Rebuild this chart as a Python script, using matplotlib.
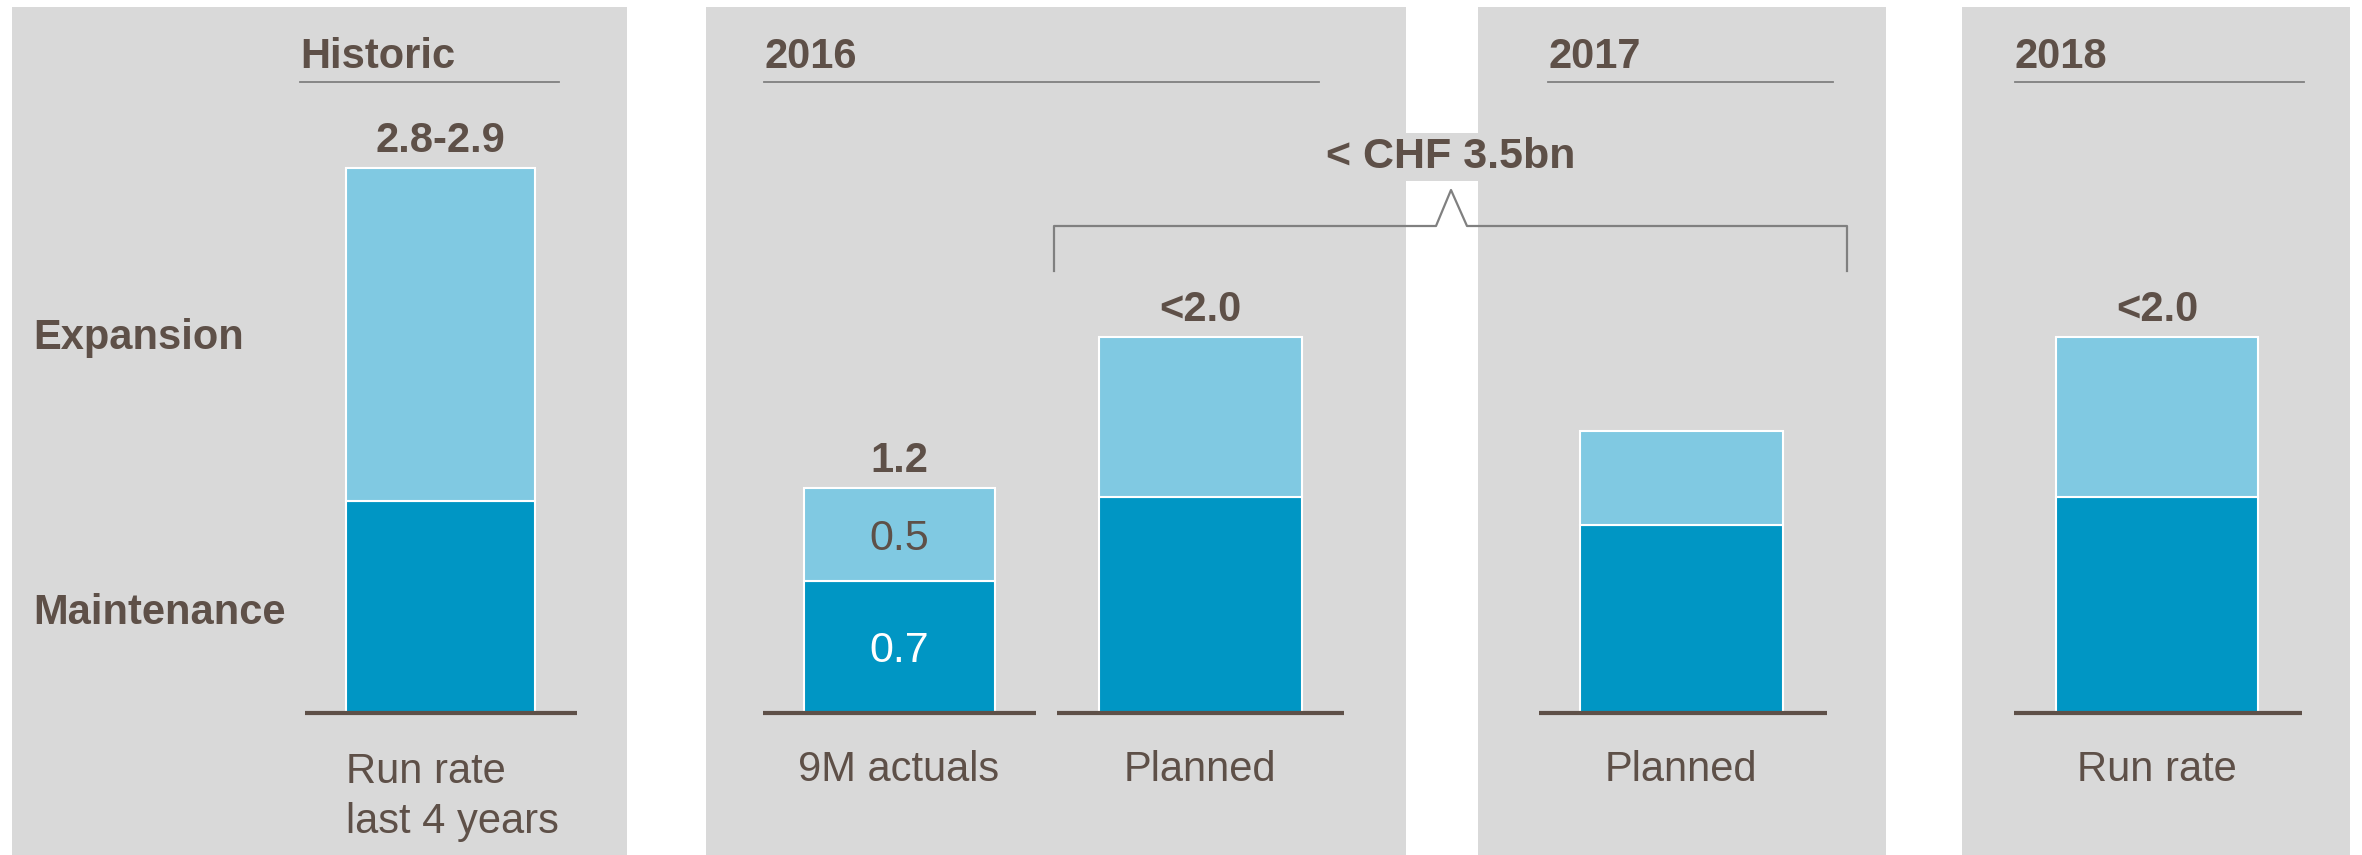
import matplotlib.pyplot as plt
from matplotlib.patches import Rectangle

plt.rcParams['font.family'] = ['Liberation Sans', 'DejaVu Sans']

# data (CHF bn)
categories = ['Run rate\nlast 4 years', '9M actuals', 'Planned', 'Planned', 'Run rate']
maintenance = [1.13, 0.7, 1.15, 1.0, 1.15]
expansion = [1.77, 0.5, 0.85, 0.5, 0.85]
top_labels = ['2.8-2.9', '1.2', '<2.0', '', '<2.0']
headers = ['Historic', '2016', '2017', '2018']
total_label = '< CHF 3.5bn'

# layout (pixel columns of the 2362 px wide picture)
W, H = 2362, 855
bar_x = [440, 899, 1200, 1681, 2157]
bar_w = [189, 191, 203, 203, 202]
base_lines = [(305, 577), (763, 1036), (1057, 1344), (1539, 1827), (2014, 2302)]
panels = [(12, 627), (706, 1406), (1478, 1886), (1962, 2350)]
header_lines = [(300, 559), (764, 1319), (1548, 1833), (2015, 2304)]

DARK = '#0096c4'
LIGHT = '#80c9e2'
PANEL = '#d9d9d9'
TEXT = '#5e5048'
LINE = '#808080'

px_per_unit = 187.9
base_px = 713  # from top

fig = plt.figure(figsize=(W / 100, H / 100), dpi=100)
ax = fig.add_axes([0, 0, 1, 1])
ax.set_xlim(0, W)
ax.set_ylim(-(H - base_px) / px_per_unit, base_px / px_per_unit)
ax.axis('off')
tr = ax.get_xaxis_transform()


def fy(py):
    # pixel row from the top -> axes fraction
    return 1 - py / H


for x0, x1 in panels:
    ax.add_patch(Rectangle((x0, 0), x1 - x0, fy(7), transform=tr,
                           facecolor=PANEL, edgecolor='none', zorder=0))

ax.bar(bar_x, maintenance, width=bar_w, color=DARK, edgecolor='white',
       linewidth=1.5, zorder=2)
ax.bar(bar_x, expansion, width=bar_w, bottom=maintenance, color=LIGHT,
       edgecolor='white', linewidth=1.5, zorder=2)

for (x0, x1) in base_lines:
    ax.plot([x0, x1], [0, 0], color=TEXT, lw=3, solid_capstyle='butt', zorder=3)

for i, lab in enumerate(top_labels):
    if lab:
        tot = maintenance[i] + expansion[i]
        ax.annotate(lab, (bar_x[i], tot), xytext=(0, 5), textcoords='offset points',
                    ha='center', va='bottom', fontsize=30, fontweight='bold',
                    color=TEXT)

# values inside the 9M actuals bar
ax.annotate(f'{expansion[1]:.1f}', (bar_x[1], maintenance[1] + expansion[1] / 2),
            xytext=(0, -3), textcoords='offset points',
            ha='center', va='center', fontsize=31, color=TEXT, zorder=4)
ax.annotate(f'{maintenance[1]:.1f}', (bar_x[1], maintenance[1] / 2),
            xytext=(0, -3), textcoords='offset points',
            ha='center', va='center', fontsize=31, color='white', zorder=4)

for i, cat in enumerate(categories):
    if '\n' in cat:
        ax.text(bar_x[i] - bar_w[i] / 2, fy(797), cat, transform=tr, ha='left',
                va='center', fontsize=30, color=TEXT, linespacing=1.35)
    else:
        ax.text(bar_x[i], fy(770), cat, transform=tr, ha='center', va='center',
                fontsize=30, color=TEXT)

for (x0, x1), head in zip(header_lines, headers):
    ax.text(x0, fy(57), head, transform=tr, ha='left', va='center',
            fontsize=30, fontweight='bold', color=TEXT)
    ax.plot([x0, x1], [fy(82), fy(82)], transform=tr, color=LINE, lw=1.3)

ax.text(33, fy(338), 'Expansion', transform=tr, ha='left', va='center',
        fontsize=30, fontweight='bold', color=TEXT)
ax.text(33, fy(613), 'Maintenance', transform=tr, ha='left', va='center',
        fontsize=30, fontweight='bold', color=TEXT)

# bracket over 2016 planned + 2017 planned
bx = [1054, 1054, 1436, 1451, 1467, 1847, 1847]
by = [271, 226, 226, 190, 226, 226, 271]
ax.plot(bx, [fy(v) for v in by], transform=tr, color=LINE, lw=1.6, zorder=3)
ax.text(1451, fy(157), total_label, transform=tr, ha='center', va='center',
        fontsize=31, fontweight='bold', color=TEXT, zorder=4,
        bbox=dict(facecolor=PANEL, edgecolor='none', pad=3))

fig.savefig('out.png', dpi=100, facecolor='white')
